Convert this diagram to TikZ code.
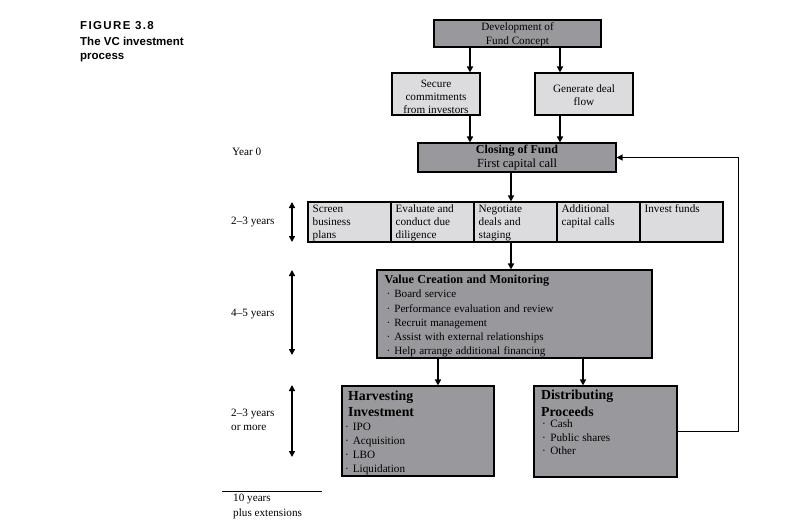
\documentclass[tikz,border=0pt]{standalone}
\usepackage{fontspec}
\setmainfont{Liberation Serif}
\newfontfamily\capfont{Liberation Sans}
\usetikzlibrary{arrows.meta}
\definecolor{boxdark}{RGB}{153,153,157}
\definecolor{boxlight}{RGB}{220,220,222}
\begin{document}
\begin{tikzpicture}[x=1pt,y=-1pt,
  darkbox/.style={draw=black, line width=1.1pt, fill=boxdark, inner sep=0pt},
  lightbox/.style={draw=black, line width=1.1pt, fill=boxlight, inner sep=0pt},
  boxtext/.style={font=\fontsize{11.2}{13}\selectfont, inner sep=0pt, align=center},
  celltext/.style={font=\fontsize{11.2}{13}\selectfont, inner sep=0pt, align=left, anchor=north west},
  sidetext/.style={font=\fontsize{11.2}{14}\selectfont, inner sep=0pt, anchor=base west},
  captext/.style={font=\capfont\bfseries\fontsize{11.5}{14}\selectfont, inner sep=0pt, anchor=base west},
  arr/.style={line width=1.6pt, -{Triangle[length=6pt,width=6pt]}},
  dbl/.style={line width=1.6pt, {Triangle[length=6pt,width=6pt]}-{Triangle[length=6pt,width=6pt]}},
]
\useasboundingbox (0,0) rectangle (788,528);

% caption
\node[captext] (cap1) at (80,29.3) {\addfontfeatures{LetterSpace=12}FIGURE 3.8};
\node[captext] (cap2) at (80,45) {The VC investment};
\node[captext] (cap3) at (80,59.5) {process};

% top boxes
\node[darkbox, minimum width=167pt, minimum height=27pt] (dev) at (517.5,33.5) {};
\node[boxtext, font=\fontsize{11.2}{14.3}\selectfont] (devt) at ([yshift=-1.5pt]dev.center) {Development of\\Fund Concept};
\node[lightbox, minimum width=88pt, minimum height=42pt] (sec) at (436,94) {};
\node[boxtext] (sect) at ([yshift=-2.5pt]sec.center) {Secure\\commitments\\from investors};
\node[lightbox, minimum width=98pt, minimum height=42pt] (gen) at (584,94) {};
\node[boxtext] (gent) at ([yshift=-1pt]gen.center) {Generate deal\\flow};
\node[darkbox, minimum width=198pt, minimum height=29pt] (close) at (517,157.5) {};
\node[boxtext, font=\fontsize{12.4}{13.5}\selectfont] (closet) at (close.center) {\textbf{\fontsize{12}{13.5}\selectfont Closing of Fund}\\First capital call};

% table row
\foreach \i/\x in {1/349.5,2/432.5,3/515.5,4/598.5,5/681.5}
  \node[lightbox, minimum width=83pt, minimum height=40pt] (c\i) at (\x,222) {};
\node[celltext] (c1t) at ([xshift=5pt,yshift=-1.5pt]c1.north west) {\strut Screen\\business\\plans};
\node[celltext] (c2t) at ([xshift=5pt,yshift=-1.5pt]c2.north west) {\strut Evaluate and\\conduct due\\diligence};
\node[celltext] (c3t) at ([xshift=5pt,yshift=-1.5pt]c3.north west) {\strut Negotiate\\deals and\\staging};
\node[celltext] (c4t) at ([xshift=5pt,yshift=-1.5pt]c4.north west) {\strut Additional\\capital calls};
\node[celltext] (c5t) at ([xshift=5pt,yshift=-1.5pt]c5.north west) {\strut Invest funds};

% value creation
\node[darkbox, minimum width=275pt, minimum height=88pt] (vc) at (514.5,314) {};
\node[inner sep=0pt, anchor=north west, text width=262pt, align=left] (vct) at ([xshift=8pt,yshift=-4.2pt]vc.north west)
  {{\fontsize{12.2}{14}\selectfont\bfseries\strut Value Creation and Monitoring\par}
   {\fontsize{11.1}{14.2}\selectfont
   \hspace*{2pt}\textperiodcentered\hspace{4pt}Board service\\
   \hspace*{2pt}\textperiodcentered\hspace{4pt}Performance evaluation and review\\
   \hspace*{2pt}\textperiodcentered\hspace{4pt}Recruit management\\
   \hspace*{2pt}\textperiodcentered\hspace{4pt}Assist with external relationships\\
   \hspace*{2pt}\textperiodcentered\hspace{4pt}Help arrange additional financing\par}};

% harvesting
\node[darkbox, minimum width=152pt, minimum height=90pt] (harv) at (418,431) {};
\node[inner sep=0pt, anchor=north west, text width=142pt, align=left] (harvt) at ([xshift=6.5pt,yshift=-3pt]harv.north west)
  {{\fontsize{13.8}{16.5}\selectfont\bfseries\strut Harvesting\\Investment\par}
   {\fontsize{11.2}{13.9}\selectfont
   \hspace*{-3pt}\textperiodcentered\hspace{4pt}IPO\\
   \hspace*{-3pt}\textperiodcentered\hspace{4pt}Acquisition\\
   \hspace*{-3pt}\textperiodcentered\hspace{4pt}LBO\\
   \hspace*{-3pt}\textperiodcentered\hspace{4pt}Liquidation\par}};

% distributing
\node[darkbox, minimum width=143pt, minimum height=91pt] (dist) at (605.5,431.5) {};
\node[inner sep=0pt, anchor=north west, text width=132pt, align=left] (distt) at ([xshift=7.5pt,yshift=-2.5pt]dist.north west)
  {{\fontsize{13.8}{16.5}\selectfont\bfseries\strut Distributing\\Proceeds\par}
   \vspace{-2pt}
   {\fontsize{11.2}{13.5}\selectfont
   \hspace*{1pt}\textperiodcentered\hspace{4.5pt}Cash\\
   \hspace*{1pt}\textperiodcentered\hspace{4.5pt}Public shares\\
   \hspace*{1pt}\textperiodcentered\hspace{4.5pt}Other\par}};

% arrows
\draw[arr] (dev.south -| 470,0) -- (sec.north -| 470,0);
\draw[arr] (dev.south -| 560,0) -- (gen.north -| 560,0);
\draw[arr] (sec.south -| 470,0) -- (close.north -| 470,0);
\draw[arr] (gen.south -| 560,0) -- (close.north -| 560,0);
\draw[arr] (close.south -| 511,0) -- (c3.north -| 511,0);
\draw[arr] (c3.south -| 511,0) -- (vc.north -| 511,0);
\draw[arr] (vc.south -| 438,0) -- (harv.north -| 438,0);
\draw[arr] (vc.south -| 583,0) -- (dist.north -| 583,0);
\draw[line width=1.2pt, -{Triangle[length=6pt,width=6pt]}] (dist.east) -- ++(61,0) |- (close.east);

% side timeline
\node[sidetext] (y0) at (232,155.5) {Year 0};
\node[sidetext] (y1) at (231,224.5) {2–3 years};
\node[sidetext] (y2) at (231,316.5) {4–5 years};
\node[sidetext] (y3a) at (231,416) {2–3 years};
\node[sidetext] (y3b) at (231,430) {or more};
\coordinate (a1t) at (292,202); \coordinate (a1b) at (292,242);
\coordinate (a2t) at (292,270); \coordinate (a2b) at (292,355);
\coordinate (a3t) at (292,385); \coordinate (a3b) at (292,457);
\draw[dbl] (a1t) -- (a1b);
\draw[dbl] (a2t) -- (a2b);
\draw[dbl] (a3t) -- (a3b);
\coordinate (ll) at (222,491); \coordinate (lr) at (322,491);
\draw[line width=0.8pt] (ll) -- (lr);
\node[sidetext] (tot1) at (233,501) {10 years};
\node[sidetext] (tot2) at (233,516) {plus extensions};
\end{tikzpicture}
\end{document}
